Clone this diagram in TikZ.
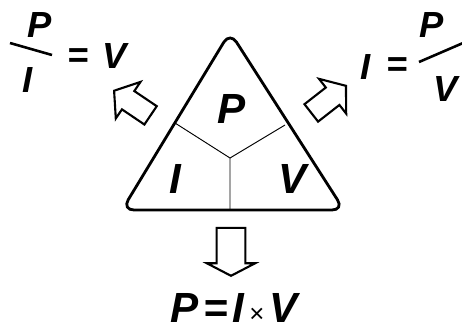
\documentclass[tikz,border=0pt]{standalone}
\usepackage{fontspec}
\setmainfont{Liberation Sans}
\usetikzlibrary{shapes.arrows}
\newcommand{\bigfont}{\fontsize{36}{40}\selectfont\bfseries\itshape}
\newcommand{\frmfont}{\fontsize{31}{36}\selectfont\bfseries\itshape}

\begin{document}
\begin{tikzpicture}[
x=0.3mm,y=-0.3mm,
every node/.style={inner sep=0pt,anchor=base},
sym/.style={font=\bigfont},
frm/.style={font=\frmfont},
bar/.style={line width=2.2pt},
blk/.style={single arrow,draw,line width=1.8pt,anchor=tip,inner sep=0.3cm,
  minimum height=1.32cm,single arrow head extend=0.33cm,single arrow tip angle=105},
blkdown/.style={blk,inner sep=0.4cm,minimum height=1.44cm,
  single arrow head extend=0.29cm,single arrow tip angle=125}
]
\useasboundingbox (0,0) rectangle (462,329);
% triangle
\coordinate (apex) at (230,32);
\coordinate (bl) at (122,210);
\coordinate (br) at (344,210);
\coordinate (mid) at (230,158);
\coordinate (dl) at (175,123);
\coordinate (dr) at (285,125);
\coordinate (db) at (230,210);
\draw[line width=2.4pt,rounded corners=3.6mm] (db) -- (br) -- (apex) -- (bl) -- cycle;
\draw[line width=0.8pt] (dl) -- (mid) -- (dr) (mid) -- (db);
\node[sym] (p) at (232,123) {P};
\node[sym] (i) at (175,193) {I};
\node[sym] (v) at (293,193) {V};
% arrows
\node[blk,rotate=146] (arrl) at (113,90) {};
\node[blk,rotate=38] (arrr) at (347,85) {};
\node[blkdown,rotate=-90] (arrd) at (231,277) {};
% left formula
\node[frm] (lp) at (40,37) {P};
\coordinate (lba) at (10,43);
\coordinate (lbb) at (52,55);
\draw[bar] (lba) -- (lbb);
\node[frm] (li) at (28,92) {I};
\node[frm] (leq) at (78,67) {=};
\node[frm] (lv) at (115,68) {V};
% right formula
\node[frm] (ri) at (366,79) {I};
\node[frm] (req) at (397,76) {=};
\node[frm] (rp) at (432,37) {P};
\coordinate (rba) at (419,62);
\coordinate (rbb) at (470,40);
\draw[bar] (rba) -- (rbb);
\node[frm] (rv) at (446,101) {V};
% bottom
\node[sym] (law) at (234,322) {P\hspace{4pt}=\hspace{4pt}I\hspace{4pt}{\mdseries\upshape\fontsize{22}{24}\selectfont ×}\hspace{4pt}V};
\end{tikzpicture}
\end{document}
